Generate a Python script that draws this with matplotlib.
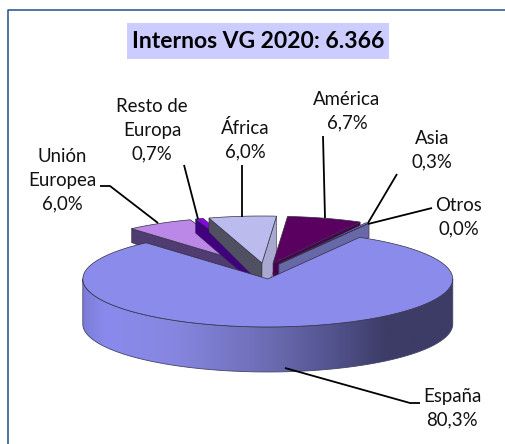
import numpy as np
import matplotlib.pyplot as plt
from matplotlib.colors import LinearSegmentedColormap
from matplotlib.patches import Polygon, Rectangle

categories = ["América", "Asia", "Otros", "España", "Unión\nEuropea", "Resto de\nEuropa", "África"]
shares = [6.7, 0.3, 0.0, 80.3, 6.0, 0.7, 6.0]
title_text = "Internos VG 2020: 6.366"

top_colors = ["#5a0060", "#8888ee", "#8888ee", "#8b8bec", "#bc88e8", "#8800ee", "#bbbbee"]
side_colors = ["#4a0050", "#6868a8", "#6868a8", "#6868a8", "#503c70", "#400080", "#505062"]

# pixel layout of the fake 3d pie
cx, cy = 265, 271
rx, ry = 185, 48
depth = 45
back_depth = 14
apex_depth = 22
explode_x, explode_y = 28, 8
start_angle = 85.4
back_scale = 0.98

label_pos = [(347, 111), (432, 150), (459, 217), (452, 408), (62, 180), (152, 130), (245, 140)]
leaders = [
    [(323, 136), (325, 218)],
    [(397, 174), (368, 223)],
    [(432, 208), (368, 224)],
    [(420, 403), (410, 403), (285, 368)],
    [(100, 186), (110, 186), (158, 223)],
    [(184, 165), (198, 219)],
    [(242, 165), (242, 217)],
]


def arc_points(x0, y0, a1, a2, scale=1.0, n=80):
    t = np.radians(np.linspace(a1, a2, n))
    return np.column_stack([x0 + scale * rx * np.cos(t), y0 - scale * ry * np.sin(t)])


fig = plt.figure(figsize=(5.05, 4.44), dpi=100)
ax = fig.add_axes([0, 0, 1, 1])
ax.set_xlim(0, 505)
ax.set_ylim(444, 0)
ax.axis("off")
plt.rcParams["font.family"] = ["Lato", "DejaVu Sans"]

ax.plot([8, 8, 505], [444, 10, 10], color="#1f5088", lw=1.1)
ax.add_patch(Rectangle((127, 23), 262, 36, fc="#ccccff", ec="none"))
ax.text(258, 41, title_text, ha="center", va="center", fontsize=16.5, fontweight="bold", color="black")

# slice angles run clockwise
edges = start_angle - np.cumsum([0] + [s * 3.6 for s in shares])
order = [4, 5, 6, 0, 1, 2, 3]

for i in order:
    a1, a2 = edges[i], edges[i + 1]
    mid = np.radians((a1 + a2) / 2)
    x0 = cx + explode_x * np.cos(mid)
    y0 = cy - explode_y * np.sin(mid)
    is_main = shares[i] > 50
    scale = 1.0 if is_main else back_scale
    arc = arc_points(x0, y0, a1, a2, scale)

    if not is_main:
        # cut faces that turn towards the viewer
        for a, normal in ((a1, a1 + 90), (a2, a2 - 90)):
            if np.sin(np.radians(normal)) < 0:
                tip = arc_points(x0, y0, a, a, scale, 1)[0]
                d_tip, d_apex = back_depth, apex_depth
                col = side_colors[i]
                if i == 6 and a == a2:
                    # this face runs on down behind the big slice
                    col = "#a8a8d0"
                    d_tip, d_apex = depth, depth
                quad = [(x0, y0), tip, (tip[0], tip[1] + d_tip), (x0, y0 + d_apex)]
                ax.add_patch(Polygon(quad, fc=col, ec="#303040", lw=0.4, zorder=1))
    else:
        low = arc_points(x0, y0, 180, 360)
        outline = np.vstack([low, (low + [0, depth])[::-1]])
        stops = [(0.0, "#7c7cd8"), (0.06, "#8a8aee"), (0.25, "#8686e0"), (0.5, "#6c6cb4"),
                 (0.7, "#4f4f88"), (0.82, "#3c3c66"), (1.0, "#3c3c66")]
        cmap = LinearSegmentedColormap.from_list("side", stops)
        im = ax.imshow(np.linspace(0, 1, 256).reshape(1, -1), cmap=cmap, aspect="auto",
                       extent=(x0 - rx, x0 + rx, y0 + ry + depth, y0), zorder=1.5)
        side = Polygon(outline, fc="none", ec="#44446a", lw=0.6, zorder=1.6)
        ax.add_patch(side)
        im.set_clip_path(side)

    wedge = np.vstack([[x0, y0], arc])
    ax.add_patch(Polygon(wedge, fc=top_colors[i], ec="#303040", lw=0.5, zorder=2 if is_main else 1))

ax.set_xlim(0, 505)
ax.set_ylim(444, 0)

for pts in leaders:
    xs, ys = zip(*pts)
    ax.plot(xs, ys, color="black", lw=1.3, zorder=3, solid_capstyle="butt")

for name, share, (x, y) in zip(categories, shares, label_pos):
    label = name + "\n" + f"{share:.1f}".replace(".", ",") + "%"
    ax.text(x, y, label, ha="center", va="center", fontsize=13.4, linespacing=1.47, color="#111111", zorder=4)

fig.savefig("out.png", dpi=100)
